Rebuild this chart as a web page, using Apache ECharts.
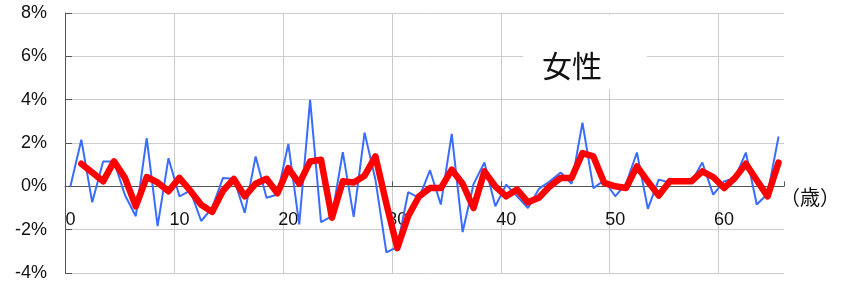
<!DOCTYPE html>
<html>
<head>
<meta charset="utf-8">
<script src="https://cdn.jsdelivr.net/npm/echarts@6/dist/echarts.min.js"></script>
<style>
  html, body { margin: 0; padding: 0; background: #fff; }
  #main { width: 845px; height: 284px; }
</style>
</head>
<body>
<div id="main"></div>
<script>
// 年齢（0〜65歳）
const ages = [
  0, 1, 2, 3, 4, 5, 6, 7, 8, 9,
  10, 11, 12, 13, 14, 15, 16, 17, 18, 19,
  20, 21, 22, 23, 24, 25, 26, 27, 28, 29,
  30, 31, 32, 33, 34, 35, 36, 37, 38, 39,
  40, 41, 42, 43, 44, 45, 46, 47, 48, 49,
  50, 51, 52, 53, 54, 55, 56, 57, 58, 59,
  60, 61, 62, 63, 64, 65
];

// 各歳の変化率（%）
const yearlyRate = [
  0.0, 2.15, -0.74, 1.15, 1.15, -0.4, -1.38, 2.22, -1.84, 1.3,
  -0.46, -0.2, -1.6, -1.0, 0.39, 0.35, -1.22, 1.38, -0.53, -0.38,
  1.96, -1.76, 3.99, -1.65, -1.38, 1.58, -1.41, 2.48, 0.3, -3.05,
  -2.8, -0.27, -0.53, 0.74, -0.84, 2.42, -2.11, 0.1, 1.1, -0.92,
  0.08, -0.46, -1.0, -0.12, 0.23, 0.64, 0.12, 2.94, -0.08, 0.28,
  -0.46, 0.12, 1.56, -1.04, 0.31, 0.18, 0.25, 0.2, 1.1, -0.38,
  0.23, 0.39, 1.56, -0.84, -0.34, 2.3
];

// 平均した変化率（%）、0歳は値なし
const smoothRate = [
  null, 1.04, 0.64, 0.23, 1.15, 0.39, -0.92, 0.43, 0.18, -0.23,
  0.39, -0.2, -0.85, -1.18, -0.2, 0.34, -0.46, 0.12, 0.35, -0.32,
  0.84, 0.12, 1.15, 1.23, -1.45, 0.23, 0.18, 0.49, 1.38, -0.8,
  -2.85, -1.38, -0.46, -0.08, -0.08, 0.77, 0.12, -1.0, 0.69, 0.0,
  -0.46, -0.15, -0.74, -0.53, 0.0, 0.39, 0.39, 1.53, 1.38, 0.16,
  0.0, -0.08, 0.92, 0.23, -0.43, 0.23, 0.23, 0.23, 0.69, 0.43,
  -0.08, 0.39, 1.04, 0.28, -0.46, 1.1
];

const chart = echarts.init(document.getElementById('main'));

const option = {
  animation: false,
  grid: { left: 65, right: 61, top: 13, bottom: 11, containLabel: false, outerBoundsMode: 'none' },
  xAxis: {
    type: 'category',
    data: ages,
    boundaryGap: true,
    axisLine: { onZero: true, lineStyle: { color: '#555', width: 1 } },
    axisTick: { show: true, inside: true, interval: 9, length: 5, lineStyle: { color: '#555' } },
    axisLabel: {
      interval: 9,
      // ラベルは0%の線のすぐ下に置く
      margin: -62,
      fontSize: 18,
      color: '#111',
      fontFamily: 'Liberation Sans, Arial, sans-serif'
    },
    splitLine: {
      show: true,
      interval: 9,
      showMaxLine: false,
      lineStyle: { color: '#ccc', width: 1 }
    }
  },
  yAxis: {
    type: 'value',
    min: -4,
    max: 8,
    interval: 2,
    axisLine: { show: true, lineStyle: { color: '#555', width: 1 } },
    axisTick: { show: true, inside: true, length: 7, lineStyle: { color: '#555' } },
    axisLabel: {
      formatter: '{value}%',
      margin: 18,
      fontSize: 18,
      color: '#111',
      fontFamily: 'Liberation Sans, Arial, sans-serif'
    },
    splitLine: { show: true, lineStyle: { color: '#ccc', width: 1 } }
  },
  series: [
    {
      name: '各歳',
      type: 'line',
      data: yearlyRate,
      showSymbol: false,
      lineStyle: { color: '#3a6cff', width: 2 },
      z: 3
    },
    {
      name: '平均',
      type: 'line',
      data: smoothRate,
      showSymbol: false,
      lineStyle: { color: '#ff0000', width: 6.5, join: 'round', cap: 'round' },
      z: 4
    }
  ],
  graphic: [
    {
      type: 'rect',
      shape: { x: 523, y: 15, width: 124, height: 74 },
      style: { fill: '#fff' },
      z: 10
    },
    {
      type: 'text',
      x: 572,
      y: 66,
      style: {
        text: '女性',
        fontSize: 30,
        fill: '#111',
        align: 'center',
        verticalAlign: 'middle',
        fontFamily: 'Noto Sans CJK JP, sans-serif'
      },
      z: 11
    },
    {
      type: 'text',
      x: 780,
      y: 197,
      style: {
        text: '（歳）',
        fontSize: 20,
        fill: '#111',
        align: 'left',
        verticalAlign: 'middle',
        fontFamily: 'Noto Sans CJK JP, sans-serif'
      },
      z: 11
    }
  ]
};

chart.setOption(option);
</script>
</body>
</html>
